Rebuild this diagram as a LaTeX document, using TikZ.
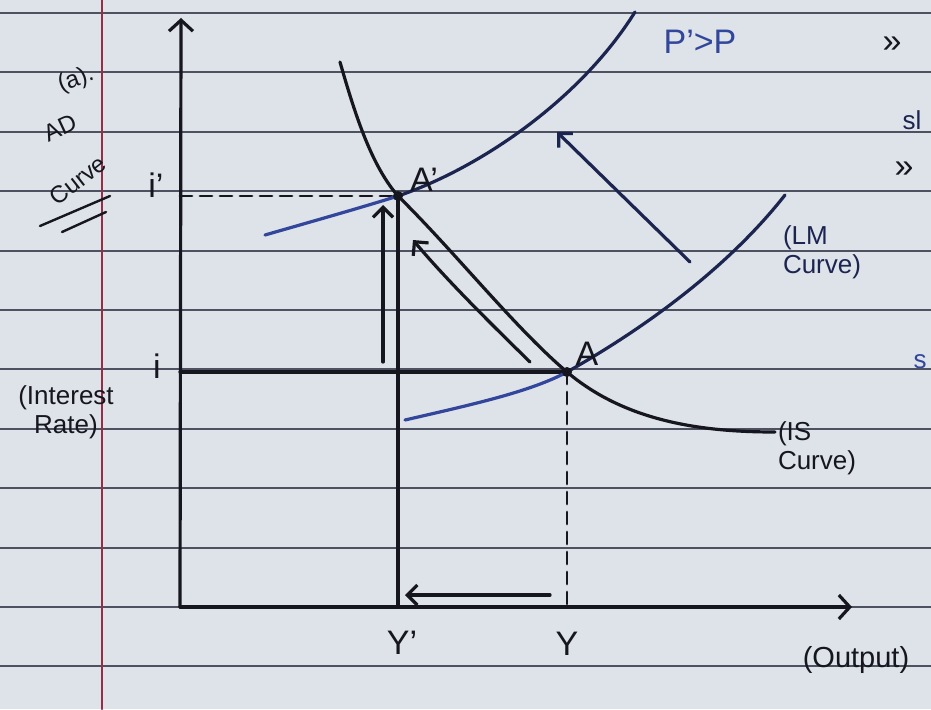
\documentclass[tikz,border=0pt]{standalone}
\usepackage{fontspec}
\setmainfont{Liberation Sans}
\usetikzlibrary{arrows.meta}
\definecolor{paper}{RGB}{222,226,233}
\definecolor{rulec}{RGB}{78,82,96}
\definecolor{marginc}{RGB}{150,45,70}
\definecolor{ink}{RGB}{22,22,30}
\definecolor{blueink}{RGB}{50,70,155}
\definecolor{navy}{RGB}{28,36,80}
\begin{document}
\begin{tikzpicture}[x=1pt,y=-1pt,line cap=round,line join=round,
  rulel/.style={rulec,line width=1.8pt},
  axisl/.style={ink,line width=3.2pt,-{Straight Barb[length=11pt,width=24pt,line width=3.2pt]}},
  curvel/.style={line width=3.2pt},
  arrl/.style={line width=3.2pt,-{Straight Barb[length=10pt,width=20pt,line width=3.2pt]}},
  big/.style={font=\fontsize{34}{38}\selectfont,inner sep=0pt,text=ink},
  small/.style={font=\fontsize{26}{29}\selectfont,inner sep=0pt,text=ink},
  side/.style={font=\fontsize{24}{28}\selectfont,inner sep=0pt,text=ink}]
\fill[paper] (0,0) rectangle (931,709);
\useasboundingbox (0,0) rectangle (931,709);
% notebook rules
\foreach \yy in {13,72,132,191,251,310,369,429,488,548,607,666}
  \draw[rulel] (0,\yy) -- (931,\yy);
\draw[marginc,line width=2.6pt] (102,0) -- (102,709);
% key points
\coordinate (O) at (180,607);
\coordinate (Ytop) at (181,18);
\coordinate (Xend) at (852,607);
\coordinate (A) at (567,372);
\coordinate (Ap) at (398,196);
\coordinate (Yp) at (398,607);
\coordinate (Yq) at (567,607);
\coordinate (ip) at (180,196);
\coordinate (io) at (180,372);
% axes
\draw[axisl] (O) -- (Ytop);
\draw[axisl] (O) -- (Xend);
% guide lines
\draw[ink,line width=2.8pt,dash pattern=on 12pt off 8pt] (ip) -- (Ap);
\draw[ink,line width=3.2pt] (io) -- (A);
\draw[ink,line width=2.8pt,dash pattern=on 12pt off 8pt] (A) -- (Yq);
\draw[ink,line width=3.2pt] (Ap) -- (Yp);
% IS curve
\draw[curvel,ink] (340,62) .. controls (356,118) and (372,166) .. (Ap)
  .. controls (455,252) and (515,328) .. (A)
  .. controls (625,421) and (700,432) .. (775,432);
% LM curve (original)
\draw[curvel,blueink] (405,420) .. controls (470,405) and (530,392) .. (A);
\draw[curvel,navy] (A) .. controls (650,325) and (730,265) .. (785,195);
% LM' curve (P'>P)
\draw[curvel,blueink] (265,235) .. controls (310,222) and (360,208) .. (Ap);
\draw[curvel,navy] (Ap) .. controls (480,168) and (580,100) .. (635,12);
% equilibrium dots
\fill[ink] (A) circle (5);
\fill[ink] (Ap) circle (5);
% shift arrows
\coordinate (s1) at (690,262); \coordinate (e1) at (557,132);
\draw[arrl,navy] (s1) -- (e1);
\coordinate (s2) at (383,362); \coordinate (e2) at (383,205);
\draw[arrl,ink] (s2) -- (e2);
\coordinate (s3) at (530,362); \coordinate (e3) at (413,240);
\draw[arrl,ink] (s3) .. controls (485,318) and (445,278) .. (e3);
\coordinate (s4) at (550,595); \coordinate (e4) at (405,595);
\draw[arrl,ink] (s4) -- (e4);
% labels
\node[big] (lAp) at (424,180) {A'};
\node[big] (lA) at (587,354) {A};
\node[big] (lip) at (156,185) {i'};
\node[big] (li) at (157,366) {i};
\node[big] (lYp) at (402,643) {Y'};
\node[big] (lY) at (567,644) {Y};
\node[big,text=blueink] (lP) at (700,42) {P'>P};
\node[small,text=navy,align=left] (lLM) at (822,252) {(LM\\Curve)};
\node[small,align=left] (lIS) at (817,448) {(IS\\Curve)};
\node[font=\fontsize{29}{32}\selectfont,inner sep=0pt,text=ink] (lout) at (856,660) {(Output)};
\node[small,align=center] (lir) at (66,412) {(Interest\\Rate)};
\node[side,rotate=20] (la) at (76,80) {(a).};
\node[side,rotate=25] (lAD) at (60,128) {AD};
\node[side,rotate=38] (lcur) at (78,180) {Curve};
\draw[ink,line width=2.4pt] (40,226) -- (110,196);
\draw[ink,line width=2.4pt] (62,232) -- (106,212);
\node[big] (r1) at (892,45) {»};
\node[big] (r2) at (904,170) {»};
\node[small,text=navy] (r3) at (912,120) {sl};
\node[small,text=blueink] (r4) at (920,362) {s};
\end{tikzpicture}
\end{document}
